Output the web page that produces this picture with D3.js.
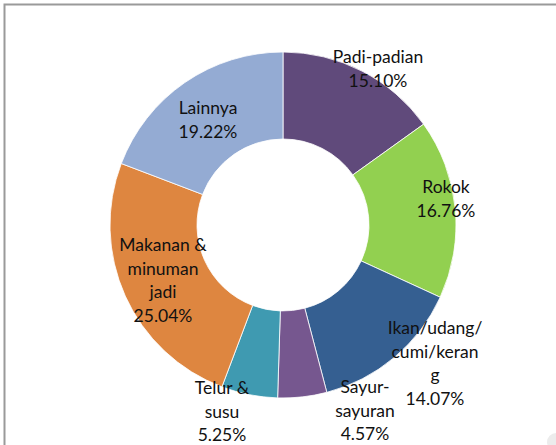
<!DOCTYPE html>
<html>
<head>
<meta charset="utf-8">
<script src="https://cdn.jsdelivr.net/npm/d3@7/dist/d3.min.js"></script>
<style>
  html, body { margin: 0; padding: 0; background: #fff; }
  svg { display: block; }
  text { font-family: Lato, "Open Sans", sans-serif; font-size: 17.5px; fill: #111; }
</style>
</head>
<body>
<svg id="chart" width="556" height="445"></svg>
<script>
// Share of household spending by commodity group (%)
const categories = [
  "Padi-padian",
  "Rokok",
  "Ikan/udang/cumi/kerang",
  "Sayur-sayuran",
  "Telur & susu",
  "Makanan & minuman jadi",
  "Lainnya"
];
const values = [15.10, 16.76, 14.07, 4.57, 5.25, 25.04, 19.22];
const colors = ["#604A7B", "#92D050", "#355F91", "#76578F", "#3F9AB1", "#DE8640", "#94ABD3"];

// Wrapped label lines, as the category names break inside the chart
const labelLines = [
  ["Padi-padian"],
  ["Rokok"],
  ["Ikan/udang/", "cumi/keran", "g"],
  ["Sayur-", "sayuran"],
  ["Telur &", "susu"],
  ["Makanan &", "minuman", "jadi"],
  ["Lainnya"]
];

// Label anchor points (centre of first line) and line spacing
const labelAnchors = [
  [378, 57], [446, 187], [435, 328], [365, 387], [222, 388], [163, 245], [208, 108]
];
const lineHeight = 23.5;

const svg = d3.select("#chart");

// outer frame of the chart area
svg.append("rect")
  .attr("x", 4.5).attr("y", 4.5)
  .attr("width", 700).attr("height", 700)
  .attr("fill", "none")
  .attr("stroke", "#9a9a9a")
  .attr("stroke-width", 2);

svg.append("circle")
  .attr("cx", 556).attr("cy", 442).attr("r", 9)
  .attr("fill", "#ececec");

const cx = 283, cy = 225;
const outerR = 173, innerR = 86;

const pie = d3.pie().sort(null).value(d => d);
const arcs = pie(values);
const arc = d3.arc().innerRadius(innerR).outerRadius(outerR);

const g = svg.append("g").attr("transform", `translate(${cx},${cy})`);

g.selectAll("path.slice")
  .data(arcs)
  .join("path")
  .attr("class", "slice")
  .attr("d", arc)
  .attr("fill", (d, i) => colors[i])
  .attr("stroke", "#ffffff")
  .attr("stroke-width", 0.8);

const fmt = d3.format(".2f");

const labels = svg.append("g").attr("class", "labels");
arcs.forEach((a, i) => {
  const [lx, ly] = labelAnchors[i];
  const lines = labelLines[i].concat([fmt(a.data) + "%"]);
  const t = labels.append("text")
    .attr("text-anchor", "middle")
    .attr("x", lx)
    .attr("y", ly);
  lines.forEach((line, k) => {
    t.append("tspan")
      .attr("x", lx)
      .attr("dy", k === 0 ? "0.35em" : lineHeight)
      .text(line);
  });
});
</script>
</body>
</html>
